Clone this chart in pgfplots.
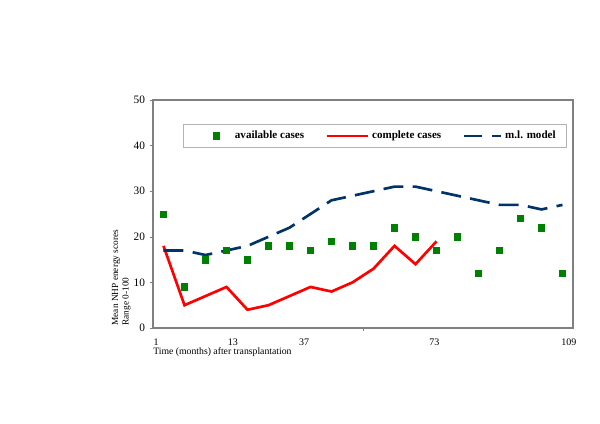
\documentclass[border=0pt]{standalone}
\usepackage{fontspec}
\setmainfont{Liberation Serif}
\usepackage{pgfplots}
\pgfplotsset{compat=1.18}
\definecolor{avgreen}{RGB}{0,128,0}
\definecolor{mlnavy}{RGB}{0,51,102}
\definecolor{frame}{RGB}{128,128,128}

\pgfplotstableread{
x y
0.5 25
1.5 9
2.5 15
3.5 17
4.5 15
5.5 18
6.5 18
7.5 17
8.5 19
9.5 18
10.5 18
11.5 22
12.5 20
13.5 17
14.5 20
15.5 12
16.5 17
17.5 24
18.5 22
19.5 12
}\available

\pgfplotstableread{
x y
0.5 18
1.5 5
2.5 7
3.5 9
4.5 4
5.5 5
6.5 7
7.5 9
8.5 8
9.5 10
10.5 13
11.5 18
12.5 14
13.5 19
}\complete

\pgfplotstableread{
x y
0.5 17
1.5 17
2.5 16
3.5 17
4.5 18
5.5 20
6.5 22
7.5 25
8.5 28
9.5 29
10.5 30
11.5 31
12.5 31
13.5 30
14.5 29
15.5 28
16.5 27
17.5 27
18.5 26
19.5 27
}\mlmodel

\begin{document}
\begin{tikzpicture}
\path[use as bounding box] (-114.75pt,-72pt) rectangle (335.25pt,246pt);
\begin{axis}[
    scale only axis,
    clip=false,
    width=315pt, height=171pt,
    xmin=0, xmax=20, ymin=0, ymax=50,
    axis line style={draw=frame, line width=0.8pt},
    xtick={0.15,3.8,7.2,13.4,19.8},
    xticklabels={1,13,37,73,109},
    xtick style={draw=none},
    x tick label style={font=\fontsize{7.5}{8}\selectfont, yshift=-2pt},
    extra x ticks={10},
    extra x tick labels={},
    extra x tick style={xtick style={draw=frame}},
    ytick={0,10,...,50},
    y tick label style={font=\fontsize{8.5}{10}\selectfont},
    ytick style={draw=frame},
    tick align=outside,
    tick pos=left,
    major tick length=2.5pt,
    /pgf/number format/assume math mode=true,
    legend columns=3,
    legend style={at={(axis cs:1.41,44.7)}, anchor=north west,
        draw=frame!60, fill=white, line width=0.5pt,
        font=\bfseries\fontsize{8.3}{9}\selectfont,
        inner xsep=6pt, inner ysep=3pt,
        /tikz/every even column/.append style={column sep=14pt}},
    legend image code/.code={\draw[#1] (0pt,0pt) -- (31pt,0pt);},
]
\addplot[only marks, mark=square*, mark size=2.4pt, color=avgreen,
    legend image code/.code={\path[draw=none] (0pt,0pt) -- (31pt,0pt);
        \path[draw=none] plot[mark=square*, mark size=2.4pt, mark options={fill=avgreen, draw=avgreen}] coordinates {(19pt,0pt)};}]
    table {\available};
\addlegendentry{available cases}
\addplot[color=red, line width=2pt, no marks] table {\complete};
\addlegendentry{complete cases}
\addplot[color=mlnavy, line width=2pt, dash pattern=on 15pt off 7pt, no marks,
    legend image code/.code={\draw[mlnavy, line width=2pt] (0pt,0pt) -- (13.5pt,0pt) (21pt,0pt) -- (28pt,0pt);}]
    table {\mlmodel};
\addlegendentry{m.l. model}
\node[rotate=90, anchor=north west, align=left,
    font=\fontsize{7}{8}\selectfont, inner sep=0pt]
    at ([xshift=-31pt]rel axis cs:0,0.01) {Mean NHP energy scores\\Range 0-100};
\node[anchor=north west, inner sep=0pt, font=\fontsize{7.3}{8.5}\selectfont]
    at ([yshift=-14.5pt]rel axis cs:0,0) {Time (months) after transplantation};
\end{axis}
\end{tikzpicture}
\end{document}
